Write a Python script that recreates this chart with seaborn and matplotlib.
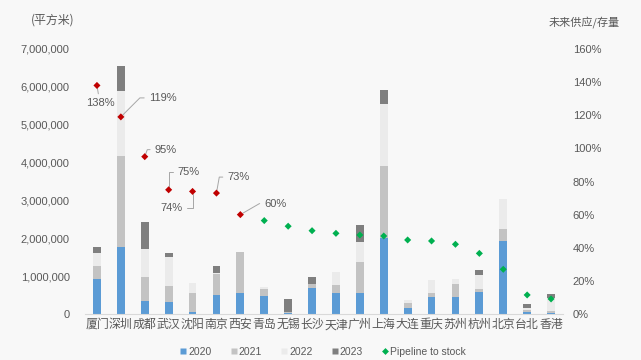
import numpy as np
import pandas as pd
import matplotlib
matplotlib.use("Agg")
import matplotlib.pyplot as plt
from matplotlib.lines import Line2D
import seaborn as sns

cities = ["厦门", "深圳", "成都", "武汉", "沈阳", "南京", "西安", "青岛", "无锡", "长沙",
          "天津", "广州", "上海", "大连", "重庆", "苏州", "杭州", "北京", "台北", "香港"]
s2020 = [0.92, 1.78, 0.34, 0.32, 0.04, 0.50, 0.55, 0.48, 0.03, 0.70,
         0.55, 0.56, 2.00, 0.15, 0.46, 0.44, 0.58, 1.94, 0.06, 0.03]
s2021 = [0.35, 2.40, 0.63, 0.42, 0.51, 0.56, 1.10, 0.19, 0.03, 0.09,
         0.22, 0.82, 1.91, 0.15, 0.09, 0.35, 0.07, 0.30, 0.05, 0.05]
s2022 = [0.35, 1.70, 0.76, 0.76, 0.28, 0.03, 0.00, 0.05, 0.00, 0.00,
         0.34, 0.53, 1.63, 0.07, 0.35, 0.13, 0.39, 0.80, 0.04, 0.33]
s2023 = [0.14, 0.68, 0.70, 0.11, 0.00, 0.19, 0.00, 0.00, 0.33, 0.20,
         0.00, 0.43, 0.38, 0.00, 0.00, 0.00, 0.11, 0.00, 0.11, 0.13]
pipeline = [1.38, 1.19, 0.95, 0.75, 0.74, 0.73, 0.60, 0.564, 0.53, 0.503,
            0.487, 0.477, 0.471, 0.447, 0.441, 0.421, 0.366, 0.27, 0.115, 0.091]
pipe_labels = ["138%", "119%", "95%", "75%", "74%", "73%", "60%"]
years = ["2020", "2021", "2022", "2023"]
left_ticks = [0, 1e6, 2e6, 3e6, 4e6, 5e6, 6e6, 7e6]
right_ticks = [0, 0.2, 0.4, 0.6, 0.8, 1.0, 1.2, 1.4, 1.6]

colors = {"2020": "#5b9bd5", "2021": "#c3c3c3", "2022": "#ebebeb", "2023": "#7f7f7f"}
red = "#c00000"
green = "#00b050"
txt = "#595959"
bg = "#f8f8f8"

sns.set_theme(style="white")
plt.rcParams["font.family"] = ["Liberation Sans", "Noto Sans CJK SC", "DejaVu Sans"]

series = [s2020, s2021, s2022, s2023]
df = pd.DataFrame({"city": cities})
cum = np.zeros(len(cities))
for y, s in zip(years, series):
    cum = cum + np.array(s) * 1e6
    df["cum" + y] = cum

fig = plt.figure(figsize=(6.41, 3.60), dpi=100, facecolor=bg)
ax = fig.add_axes([85 / 641, 1 - 314 / 360, (563 - 85) / 641, (314 - 49) / 360])
ax.set_facecolor(bg)

for y in reversed(years):
    sns.barplot(data=df, x="city", y="cum" + y, order=cities, color=colors[y],
                width=0.33, ax=ax, saturation=1, edgecolor="none", linewidth=0)

ax.set_ylim(0, 7e6)
ax.set_xlim(-0.5, len(cities) - 0.5)
ax.set_yticks(left_ticks)
ax.set_yticklabels([f"{int(v):,}" for v in left_ticks], color=txt, fontsize=8)
ax.set_xlabel("")
ax.set_ylabel("")
ax.tick_params(axis="y", length=0, pad=11)
ax.tick_params(axis="x", length=0, pad=3)
for lab in ax.get_xticklabels():
    lab.set_fontsize(8.6)
    lab.set_color(txt)
    lab.set_family(["Noto Sans CJK SC"])
for sp in ["top", "right", "left"]:
    ax.spines[sp].set_visible(False)
ax.spines["bottom"].set_color("#d9d9d9")
ax.spines["bottom"].set_linewidth(0.8)

ax2 = ax.twinx()
ax2.set_ylim(0, 1.6)
xpos = np.arange(len(cities))
pdf = pd.DataFrame({"x": xpos, "v": pipeline,
                    "grp": ["hi" if i < len(pipe_labels) else "lo" for i in range(len(cities))]})
sns.scatterplot(data=pdf, x="x", y="v", hue="grp", palette={"hi": red, "lo": green},
                marker="D", s=13, edgecolor="none", legend=False, ax=ax2, zorder=5)
ax2.set_yticks(right_ticks)
ax2.set_yticklabels([f"{int(round(v * 100))}%" for v in right_ticks], color=txt, fontsize=8)
ax2.tick_params(axis="y", length=0, pad=7)
ax2.set_ylabel("")
ax2.set_xlabel("")
for sp in ["top", "right", "left", "bottom"]:
    ax2.spines[sp].set_visible(False)

# annotations: (dx, dy) in pixels, ha, connection angleB
ann = [
    ((3, -18), "center", None),
    ((28, 19), "left", 45),
    ((10, 7), "left", 70),
    ((9, 18), "left", 90),
    ((-10, -17), "right", 90),
    ((11, 16), "left", 80),
    ((24, 11), "left", 30),
]
for i, (lab, (off, ha, angB)) in enumerate(zip(pipe_labels, ann)):
    if angB is None:
        cs = "arc3"
    else:
        cs = f"angle,angleA=0,angleB={angB},rad=0"
    ax2.annotate(lab, xy=(xpos[i], pipeline[i]), xytext=off, textcoords="offset pixels",
                 ha=ha, va="center", fontsize=8, color=txt,
                 arrowprops=dict(arrowstyle="-", color="#a6a6a6", lw=0.7,
                                 shrinkA=1, shrinkB=2, connectionstyle=cs))

fig.text(53 / 641, 1 - 20.5 / 360, "(平方米)", ha="center", va="center", fontsize=8.6,
         color=txt, family=["Noto Sans CJK SC"])
fig.text(584 / 641, 1 - 22.5 / 360, "未来供应/存量", ha="center", va="center", fontsize=8,
         color=txt, family=["Noto Sans CJK SC"])

handles = [Line2D([0], [0], marker="s", linestyle="none", markersize=4.5,
                  markerfacecolor=colors[y], markeredgecolor="none") for y in years]
handles.append(Line2D([0], [0], marker="D", linestyle="none", markersize=3.5,
                      markerfacecolor=green, markeredgecolor="none"))
leg = fig.legend(handles, years + ["Pipeline to stock"], loc="center",
                 bbox_to_anchor=(323 / 641, 1 - 352 / 360), ncol=5, frameon=False,
                 fontsize=7.5, handlelength=0.6, handletextpad=0.2, columnspacing=1.8,
                 borderpad=0)
for t in leg.get_texts():
    t.set_color(txt)

fig.savefig("out.png", dpi=100, facecolor=bg)
